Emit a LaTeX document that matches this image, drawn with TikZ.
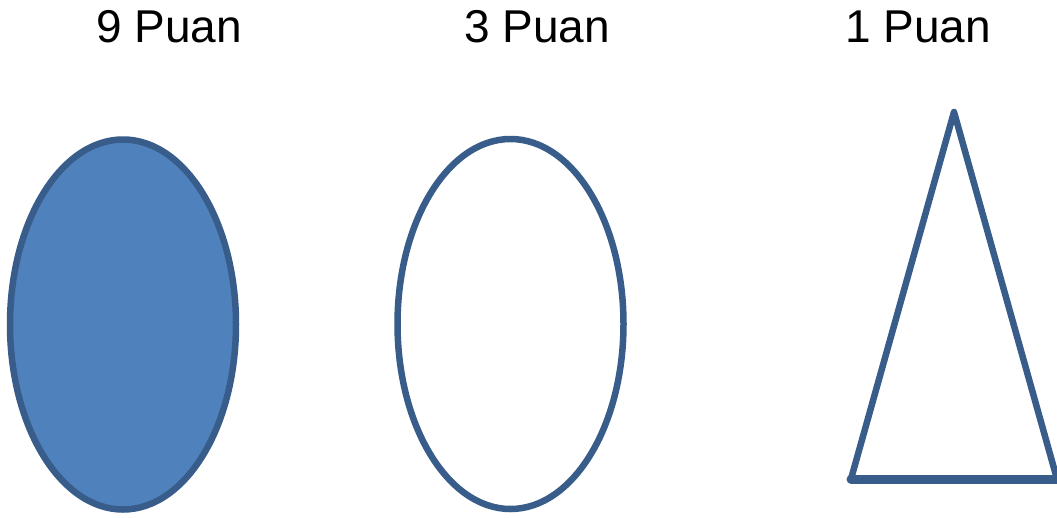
\documentclass[tikz,border=0pt]{standalone}
\usepackage{fontspec}
\setmainfont{Liberation Sans}
\definecolor{fillblue}{HTML}{4F81BD}
\definecolor{edgeblue}{HTML}{385D8A}
\tikzset{
  shapeline/.style={draw=edgeblue, line width=6.5pt},
  label/.style={anchor=base, font=\fontsize{46}{52}\selectfont, text=black, inner sep=0pt}
}
\begin{document}
\begin{tikzpicture}[x=1pt,y=-1pt]
\useasboundingbox (0,0) rectangle (1057,517);
\node[label] (t9) at (169,42) {9 Puan};
\node[label] (t3) at (537,42) {3 Puan};
\node[label] (t1) at (918,42) {1 Puan};
\draw[shapeline, fill=fillblue] (123,324.5) ellipse [x radius=113, y radius=185];
\draw[shapeline, fill=white] (510.5,324) ellipse [x radius=113, y radius=185];
\draw[shapeline, line join=round] (851,479) -- (954,112) -- (1057,479) -- cycle;
\draw[draw=edgeblue, line width=9pt, line cap=round] (851,479) -- (1057,479);
\end{tikzpicture}
\end{document}
